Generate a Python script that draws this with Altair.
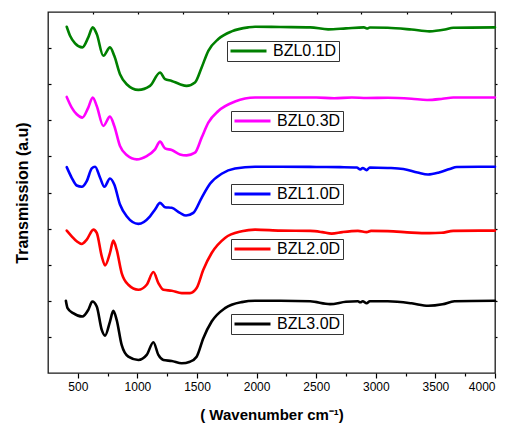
import altair as alt
import pandas as pd

FONT = "Liberation Sans"

# ---- data ----
names = ["BZL0.1D", "BZL0.3D", "BZL1.0D", "BZL2.0D", "BZL3.0D"]
colors = ["#008000", "#ff00ff", "#0000ff", "#ff0000", "#000000"]

w_g = [407, 435, 477, 538, 588, 625, 659, 714, 770, 806, 854, 910, 1008, 1106, 1190, 1232, 1288, 1357, 1413,
       1483, 1539, 1595, 1679, 1791, 1931, 1987, 2200, 2450, 2600, 2750, 2900, 2925, 2950, 3100, 3300, 3450,
       3580, 3650, 4000]
t_g = [345.3, 336.3, 328.7, 324.7, 334.7, 344.7, 338, 316.3, 324.7, 316.3, 298, 288, 282.3, 286.3, 299.7, 293,
       291.3, 288, 286.3, 289.7, 304.7, 321.3, 333, 340.7, 344.7, 345.3, 345, 344.7, 342.7, 343.7, 344.7, 343.5,
       344.5, 344.3, 342.5, 340.7, 342.5, 344.3, 344.7]

w_m = [407, 449, 491, 538, 588, 625, 659, 714, 770, 806, 854, 910, 994, 1078, 1148, 1190, 1232, 1288, 1357, 1413,
       1483, 1539, 1595, 1679, 1819, 1987, 2200, 2500, 2650, 2800, 2925, 3100, 3300, 3430, 3560, 3650, 4000]
t_m = [275.3, 264.7, 258, 254.7, 264.7, 274.7, 266.3, 246.3, 255.7, 246.3, 226.3, 217.3, 213, 216.3, 223, 230.7,
       224, 222.3, 218, 217, 219.7, 234.7, 249.7, 261.3, 270.7, 274.7, 274.7, 274.7, 274, 274.7, 274.3, 274.5,
       273.5, 272.3, 273.5, 274.7, 274.7]

w_b = [407, 449, 491, 533, 575, 617, 645, 687, 723, 770, 806, 854, 910, 1008, 1106, 1148, 1190, 1232, 1288, 1357,
       1408, 1469, 1539, 1609, 1707, 1819, 1987, 2200, 2500, 2700, 2840, 2870, 2890, 2923, 2950, 3100, 3230, 3350,
       3438, 3530, 3620, 3680, 4000]
t_b = [205.3, 194.7, 187, 185.7, 191.3, 204, 205.7, 194.7, 185.7, 194, 188, 168, 156.3, 148.7, 156.3, 163, 169.7,
       165.3, 164.7, 159.7, 157, 159.7, 174.7, 188.7, 198.7, 204, 205.7, 205.7, 205.5, 205.3, 205, 203, 204.5,
       202.3, 205, 204.5, 203.5, 200, 198, 200, 203.5, 205.5, 205.7]

w_r = [407, 449, 491, 533, 575, 631, 659, 701, 729, 770, 798, 826, 868, 924, 1008, 1078, 1134, 1176, 1218, 1288,
       1372, 1441, 1497, 1553, 1623, 1735, 1875, 1987, 2200, 2450, 2550, 2630, 2720, 2850, 2923, 2960, 3100, 3300,
       3450, 3550, 3650, 4000]
t_r = [142, 136.3, 131.3, 128.7, 133, 143, 139.7, 116.3, 107.3, 119.7, 132, 123, 99.7, 88, 83, 88, 100.7, 89.7,
       83, 82, 79.7, 79.7, 84.7, 103, 119.7, 134.7, 141.3, 143, 142, 141.7, 140.5, 139, 140.5, 141.7, 140.5, 141.7,
       141.5, 140, 139.5, 139.8, 141.7, 142]

w_k = [400, 414, 461, 538, 588, 622, 659, 701, 729, 770, 798, 826, 868, 924, 1008, 1078, 1134, 1176, 1218, 1288,
       1372, 1441, 1497, 1553, 1623, 1735, 1875, 1987, 2200, 2450, 2616, 2750, 2850, 2870, 2890, 2923, 2950, 3100,
       3300, 3440, 3560, 3660, 4000]
t_k = [72, 64.7, 59.7, 56.3, 63, 71.3, 66.3, 43, 37.3, 51.3, 62, 53, 28, 16.3, 13, 18, 30.7, 18, 13, 12, 9.7,
       11.3, 16.3, 34.7, 51.3, 64.7, 70.7, 72, 72, 71.5, 68.7, 71, 71.5, 70.5, 71.5, 69.5, 71.5, 71.5, 69.5, 67,
       68.5, 71.5, 72]

series_w = [w_g, w_m, w_b, w_r, w_k]
series_t = [t_g, t_m, t_b, t_r, t_k]

x_major = [500, 1000, 1500, 2000, 2500, 3000, 3500, 4000]
x_minor = [750, 1250, 1750, 2250, 2750, 3250, 3750]
x_top = [630, 1005, 1385, 1760, 2135, 2505, 2880, 3260, 3635]
y_ticks = [36, 72, 108, 144, 180, 216, 252, 288, 324]

# legend box positions (pixels, relative to plot area)
legend_xy = [(179, 29), (183, 99), (183, 172), (183, 227), (183, 302)]

xscale = alt.Scale(domain=[250, 4000], nice=False, zero=False)
yscale = alt.Scale(domain=[0, 360], nice=False, zero=False)

x_axis_main = alt.Axis(values=x_major, format="d", tickSize=5, tickWidth=1.2, tickColor="black",
                       labelFontSize=12, labelFont=FONT, labelColor="black", labelPadding=3,
                       domain=False, grid=False, orient="bottom",
                       title="( Wavenumber cm\u207b\u00b9)", titleFont=FONT, titleFontSize=15,
                       titleFontWeight="bold", titleColor="black", titlePadding=15)
y_axis_main = alt.Axis(values=y_ticks, labels=False, tickSize=3, tickWidth=1.2, tickColor="black",
                       domain=False, grid=False, orient="left", offset=-3,
                       title="Transmission (a.u)", titleFont=FONT, titleFontSize=16,
                       titleFontWeight="bold", titleColor="black", titlePadding=17)

layers = []
for i, (nm, col) in enumerate(zip(names, colors)):
    df = pd.DataFrame({"w": series_w[i], "t": series_t[i], "name": nm})
    lx, ly = legend_xy[i]
    layers.append(
        alt.Chart(df).mark_line(interpolate="monotone", strokeWidth=2.6, strokeCap="round").encode(
            x=alt.X("w:Q", scale=xscale, axis=x_axis_main if i == 0 else None),
            y=alt.Y("t:Q", scale=yscale, axis=y_axis_main if i == 0 else None),
            color=alt.Color("name:N", scale=alt.Scale(domain=[nm], range=[col]),
                            legend=alt.Legend(title=None, orient="none", legendX=lx, legendY=ly,
                                              symbolType="stroke", symbolSize=1296, symbolStrokeWidth=3,
                                              labelFontSize=16, labelFont=FONT, labelColor="black",
                                              strokeColor="#333333", fillColor="white", padding=2,
                                              labelOffset=5, clipHeight=16)),
        )
    )

df_all = pd.DataFrame({"w": w_k, "t": t_k})
axis_layer = alt.Chart(df_all).mark_point(opacity=0).encode(
    x=alt.X("w:Q", scale=xscale,
            axis=alt.Axis(values=x_minor, labels=False, tickSize=3, tickWidth=1.2, tickColor="black",
                          domain=False, grid=False, orient="bottom", title=None)),
    y=alt.Y("t:Q", scale=yscale,
            axis=alt.Axis(values=y_ticks, labels=False, tickSize=2, tickWidth=1.2, tickColor="black",
                          domain=False, grid=False, orient="right", title=None)),
)
top_layer = alt.Chart(df_all).mark_point(opacity=0).encode(
    x=alt.X("w:Q", scale=xscale,
            axis=alt.Axis(values=x_top, labels=False, tickSize=2, tickWidth=1.2, tickColor="black",
                          domain=False, grid=False, orient="top", offset=-2, title=None)),
    y=alt.Y("t:Q", scale=yscale, axis=None),
)

chart = alt.layer(*layers, axis_layer, top_layer).resolve_scale(
    color="independent"
).resolve_axis(x="independent", y="independent").properties(
    width=447, height=361,
    autosize=alt.AutoSizeParams(type="none"),
    padding={"left": 48, "top": 12, "right": 14, "bottom": 52},
    background="white",
).configure_view(stroke="#1a1a1a", strokeWidth=1.3)

chart.save("out.html", embed_options={"renderer": "svg", "actions": False})
